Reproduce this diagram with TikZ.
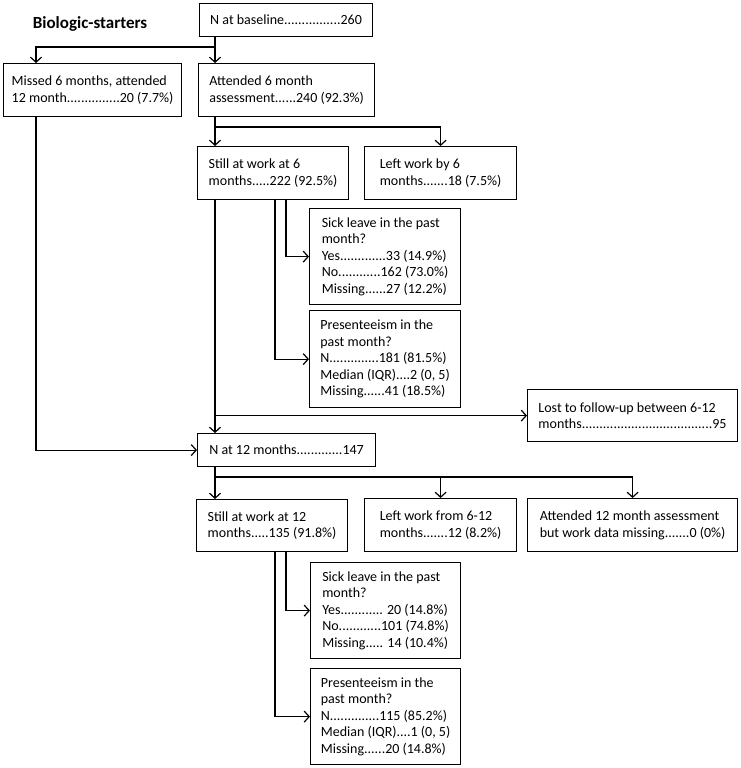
\documentclass[tikz,border=0pt]{standalone}
\usepackage{fontspec}
\setmainfont{Carlito}
\usetikzlibrary{arrows.meta}

\begin{document}
\begin{tikzpicture}[x = 1pt, y = -1pt, line width = 1.2pt,
    every node/.style = {font = \fontsize{14}{16.5}\selectfont},
    box/.style = {draw, anchor = north west, align = left, inner xsep = 0pt, inner ysep = 0pt},
    arr/.style = {-{Straight Barb[length = 5pt, width = 11pt]}}]
    \useasboundingbox (0, 0) rectangle (740, 768);
    \node[font = \fontsize{17}{20}\selectfont\bfseries] (title) at (90, 24) {Biologic-starters};
    \node[box, minimum width = 173pt, minimum height = 33pt] (base) at (199, 3) {N at baseline................260};
    \node[box, minimum width = 178pt, minimum height = 53pt] (missed) at (3, 63)
        {Missed 6 months, attended\\12 month...............20 (7.7\%)};
    \node[box, minimum width = 176pt, minimum height = 53pt] (att6) at (198, 63)
        {Attended 6 month\\assessment......240 (92.3\%)};
    \node[box, minimum width = 151pt, minimum height = 53pt] (still6) at (197, 146)
        {Still at work at 6\\months.....222 (92.5\%)};
    \node[box, minimum width = 152pt, minimum height = 53pt] (left6) at (364, 146)
        {Left work by 6\\months.......18 (7.5\%)};
    \node[box, minimum width = 151pt, minimum height = 96pt] (sick6) at (309, 208)
        {Sick leave in the past\\month?\\Yes.............33 (14.9\%)\\No............162 (73.0\%)\\Missing......27 (12.2\%)};
    \node[box, minimum width = 151pt, minimum height = 97pt] (pres6) at (309, 310)
        {Presenteeism in the\\past month?\\N..............181 (81.5\%)\\Median (IQR)....2 (0, 5)\\Missing......41 (18.5\%)};
    \node[box, minimum width = 210pt, minimum height = 52pt] (lost) at (527, 389)
        {Lost to follow-up between 6-12\\months.....................................95};
    \node[box, minimum width = 178pt, minimum height = 33pt] (n12) at (197, 433) {N at 12 months.............147};
    \node[box, minimum width = 151pt, minimum height = 52pt] (still12) at (196, 499)
        {Still at work at 12\\months.....135 (91.8\%)};
    \node[box, minimum width = 152pt, minimum height = 53pt] (left12) at (364, 498)
        {Left work from 6-12\\months.......12 (8.2\%)};
    \node[box, minimum width = 210pt, minimum height = 53pt] (att12) at (527, 498)
        {Attended 12 month assessment\\but work data missing.......0 (0\%)};
    \node[box, minimum width = 150pt, minimum height = 96pt] (sick12) at (310, 562)
        {Sick leave in the past\\month?\\Yes............ 20 (14.8\%)\\No............101 (74.8\%)\\Missing..... 14 (10.4\%)};
    \node[box, minimum width = 150pt, minimum height = 96pt] (pres12) at (310, 668)
        {Presenteeism in the\\past month?\\N..............115 (85.2\%)\\Median (IQR)....1 (0, 5)\\Missing......20 (14.8\%)};
    \coordinate (trunk) at (215, 0);
    \coordinate (lft) at (36, 0);
    \coordinate (skx) at (286, 0);
    \coordinate (prx) at (275, 0);
    \coordinate (s1) at (215, 47);
    \coordinate (s2) at (215, 127);
    \coordinate (s3) at (215, 477);
    \draw[arr] (base.south -| trunk) -- (att6.north -| trunk);
    \draw[arr] (s1) -| (missed.north -| lft);
    \draw[arr] (att6.south -| trunk) -- (still6.north -| trunk);
    \draw[arr] (s2) -| (left6.north);
    \draw[arr] (still6.south -| skx) |- (sick6.west);
    \draw[arr] (still6.south -| prx) |- (pres6.west);
    \draw[arr] (still6.south -| trunk) -- (n12.north -| trunk);
    \draw[arr] (trunk |- lost.west) -- (lost.west);
    \draw[arr] (missed.south -| lft) |- (n12.west);
    \draw[arr] (n12.south -| trunk) -- (still12.north -| trunk);
    \draw[arr] (s3) -| (left12.north);
    \draw[arr] (s3) -| (att12.north);
    \draw[arr] (still12.south -| skx) |- (sick12.west);
    \draw[arr] (still12.south -| prx) |- (pres12.west);
\end{tikzpicture}
\end{document}
